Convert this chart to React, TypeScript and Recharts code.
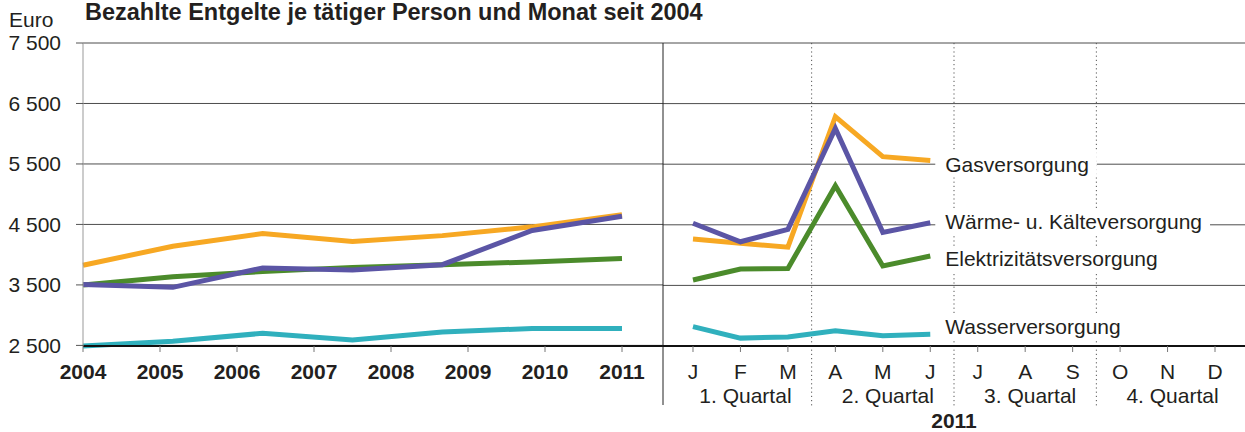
import React from 'react';
import { LineChart, Line, XAxis, YAxis, CartesianGrid, ReferenceLine, ReferenceDot } from 'recharts';

const FONT = '"Liberation Sans", Arial, Helvetica, sans-serif';
const FS = 21;
const TEXT = '#231f20';
const GRID = '#4d4d4d';

const C_GAS = '#F7A823';
const C_WAERME = '#5B55A5';
const C_STROM = '#4B8B2B';
const C_WASSER = '#30B0BD';

// ---- data ----
const yearLabels = ['2004', '2005', '2006', '2007', '2008', '2009', '2010', '2011'];
const annualGas = [3825, 4140, 4350, 4220, 4315, 4460, 4660];
const annualWaerme = [3505, 3460, 3780, 3745, 3835, 4400, 4635];
const annualStrom = [3500, 3635, 3720, 3790, 3835, 3880, 3935];
const annualWasser = [2490, 2570, 2700, 2590, 2720, 2780, 2780];

const monthLabels = ['J', 'F', 'M', 'A', 'M', 'J', 'J', 'A', 'S', 'O', 'N', 'D'];
const monthGas = [4265, 4195, 4130, 6285, 5625, 5560];
const monthWaerme = [4525, 4220, 4425, 6090, 4375, 4535];
const monthStrom = [3590, 3770, 3780, 5145, 3820, 3985];
const monthWasser = [2820, 2630, 2650, 2750, 2670, 2695];

const quarterLabels = ['1. Quartal', '2. Quartal', '3. Quartal', '4. Quartal'];
const panelYear = '2011';

const yTicks = [2500, 3500, 4500, 5500, 6500, 7500];

const seriesNames = ['Gasversorgung', 'Wärme- u. Kälteversorgung', 'Elektrizitätsversorgung', 'Wasserversorgung'];
const seriesLabelValues = [5500, 4560, 3935, 2815];

const title = 'Bezahlte Entgelte je tätiger Person und Monat seit 2004';
const unit = 'Euro';

// ---- derived tables ----
const annualData = annualGas.map((g, i) => ({
  idx: i,
  gas: g,
  waerme: annualWaerme[i],
  strom: annualStrom[i],
  wasser: annualWasser[i],
}));
const yearTicks = yearLabels.map((_, j) => (j * (annualGas.length - 1)) / (yearLabels.length - 1));
const yearFmt = (v: number) => yearLabels[Math.round((v * (yearLabels.length - 1)) / (annualGas.length - 1))];

const monthData = monthLabels.map((m, i) => ({
  idx: i,
  gas: i < monthGas.length ? monthGas[i] : null,
  waerme: i < monthWaerme.length ? monthWaerme[i] : null,
  strom: i < monthStrom.length ? monthStrom[i] : null,
  wasser: i < monthWasser.length ? monthWasser[i] : null,
}));
const monthTicks = monthLabels.map((_, i) => i);
const EDGE = 0.632;
const quarterBounds = quarterLabels.slice(1).map((_, q) => (q + 1) * 3 - 0.5);
const lastMonth = monthGas.length - 1;

const yFmt = (v: number) => `${Math.floor(v / 1000)} ${String(v % 1000).padStart(3, '0')}`;

let _ctx: CanvasRenderingContext2D | null = null;
const measure = (t: string) => {
  if (!_ctx) {
    const c = document.createElement('canvas');
    _ctx = c.getContext('2d');
  }
  if (!_ctx) return t.length * 11;
  _ctx.font = `${FS}px "Liberation Sans"`;
  return _ctx.measureText(t).width;
};

const MonthTick = (props: any) => {
  const { x, y, payload } = props;
  const i = payload.value as number;
  return (
    <g>
      <text x={x} y={y} dy="0.71em" textAnchor="middle" fill={TEXT} fontSize={FS} fontFamily={FONT}>
        {monthLabels[i]}
      </text>
      {i % 3 === 1 && (
        <text x={x + 5} y={y + 24} dy="0.71em" textAnchor="middle" fill={TEXT} fontSize={FS} fontFamily={FONT}>
          {quarterLabels[Math.floor(i / 3)]}
        </text>
      )}
    </g>
  );
};

const makeSeriesLabel = (text: string) => (p: any) => {
  const vb = p.viewBox || {};
  const cx = vb.x + (vb.width || 0) / 2;
  const cy = vb.y + (vb.height || 0) / 2;
  const w = measure(text);
  return (
    <g>
      <rect x={cx + 5} y={cy - 13} width={w + 18} height={26} fill="#fff" />
      <text x={cx + 15} y={cy} dy="0.355em" fill={TEXT} fontSize={FS} fontFamily={FONT}>
        {text}
      </text>
    </g>
  );
};

const extendedLine = (extra: number, dashed: boolean) => (p: any) => {
  const top = Math.min(p.y1, p.y2);
  const bottom = Math.max(p.y1, p.y2);
  return (
    <line
      x1={p.x1}
      x2={p.x2}
      y1={top}
      y2={bottom + extra}
      stroke={dashed ? '#555' : '#222'}
      strokeWidth={1}
      strokeDasharray={dashed ? '1.2 3' : undefined}
    />
  );
};

const yearLabelContent = (p: any) => {
  const vb = p.viewBox || {};
  return (
    <text
      x={vb.x + vb.width / 2}
      y={vb.y + vb.height - 4}
      textAnchor="middle"
      fill={TEXT}
      fontSize={FS}
      fontWeight={700}
      fontFamily={FONT}
    >
      {panelYear}
    </text>
  );
};

const lineCommon = { type: 'linear' as const, strokeWidth: 5, dot: false, activeDot: false, isAnimationActive: false };

export default function App() {
  return (
    <div style={{ position: 'absolute', left: 0, top: 0, width: 1245, height: 432, background: '#fff', overflow: 'hidden' }}>
      <svg width={1245} height={432} style={{ position: 'absolute', left: 0, top: 0 }}>
        <text x={85} y={20} fill={TEXT} fontSize={23.5} fontWeight={700} fontFamily={FONT}>
          {title}
        </text>
        <text x={9} y={27} fill={TEXT} fontSize={FS} fontFamily={FONT}>
          {unit}
        </text>
      </svg>

      <div style={{ position: 'absolute', left: 0, top: 0 }}>
        <LineChart width={663} height={432} data={annualData} margin={{ top: 43, right: 0, bottom: 0, left: 0 }}>
          <CartesianGrid vertical={false} stroke={GRID} />
          <XAxis
            dataKey="idx"
            type="number"
            domain={[0, annualGas.length - 1]}
            ticks={yearTicks}
            tickFormatter={yearFmt}
            interval={0}
            allowDecimals
            padding={{ left: 0, right: 41 }}
            height={86}
            axisLine={{ stroke: '#111', strokeWidth: 2 }}
            tickLine={{ stroke: '#777' }}
            tickSize={6}
            tickMargin={12}
            tick={{ fill: TEXT, fontSize: FS, fontWeight: 700, fontFamily: FONT }}
          />
          <YAxis
            domain={[2500, 7500]}
            ticks={yTicks}
            interval={0}
            width={83}
            tickSize={7}
            tickMargin={15}
            tickFormatter={yFmt}
            axisLine={{ stroke: '#999' }}
            tickLine={{ stroke: '#555' }}
            tick={{ fill: TEXT, fontSize: FS, fontFamily: FONT }}
          />
          <Line dataKey="wasser" stroke={C_WASSER} {...lineCommon} />
          <Line dataKey="strom" stroke={C_STROM} {...lineCommon} />
          <Line dataKey="gas" stroke={C_GAS} {...lineCommon} />
          <Line dataKey="waerme" stroke={C_WAERME} {...lineCommon} />
        </LineChart>
      </div>

      <div style={{ position: 'absolute', left: 653, top: 0 }}>
        <LineChart width={592} height={432} data={monthData} margin={{ top: 43, right: 0, bottom: 0, left: 10 }}>
          <CartesianGrid vertical={false} stroke={GRID} />
          <XAxis
            dataKey="idx"
            type="number"
            domain={[-EDGE, monthLabels.length - 1 + EDGE]}
            allowDataOverflow
            ticks={monthTicks}
            interval={0}
            height={86}
            axisLine={{ stroke: '#111', strokeWidth: 2 }}
            tickLine={{ stroke: '#777' }}
            tickSize={6}
            tickMargin={12}
            tick={<MonthTick />}
            label={{ content: yearLabelContent }}
          />
          <YAxis hide domain={[2500, 7500]} ticks={yTicks} interval={0} />
          <ReferenceLine x={-EDGE} ifOverflow="visible" shape={extendedLine(59, false)} />
          {quarterBounds.map((b) => (
            <ReferenceLine key={b} x={b} ifOverflow="visible" shape={extendedLine(62, true)} />
          ))}
          <Line dataKey="wasser" stroke={C_WASSER} {...lineCommon} />
          <Line dataKey="strom" stroke={C_STROM} {...lineCommon} />
          <Line dataKey="gas" stroke={C_GAS} {...lineCommon} />
          <Line dataKey="waerme" stroke={C_WAERME} {...lineCommon} />
          {seriesNames.map((n, i) => (
            <ReferenceDot
              key={n}
              x={lastMonth}
              y={seriesLabelValues[i]}
              r={1}
              fill="none"
              stroke="none"
              ifOverflow="visible"
              label={makeSeriesLabel(n)}
            />
          ))}
        </LineChart>
      </div>
    </div>
  );
}
